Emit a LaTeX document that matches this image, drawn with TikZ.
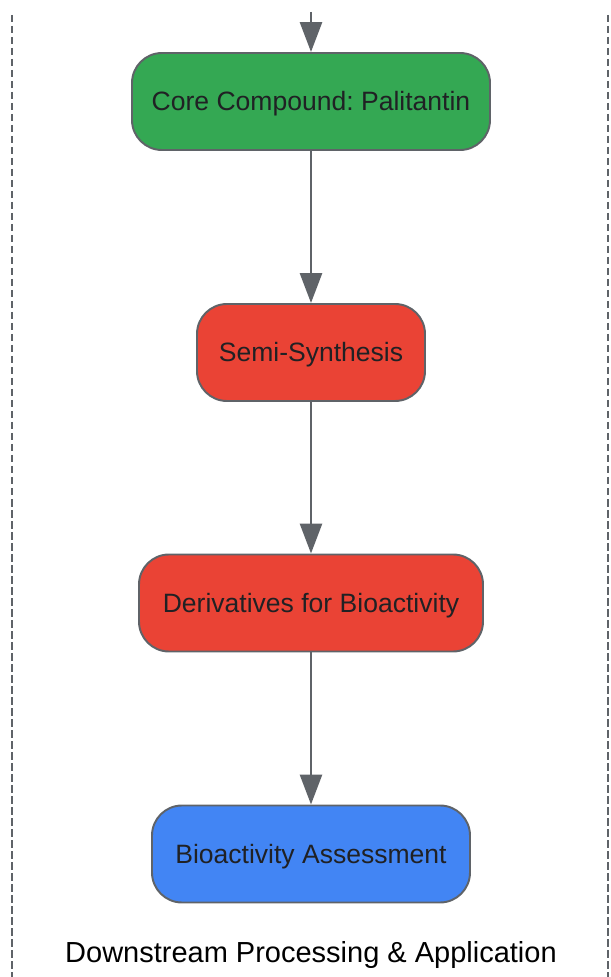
\documentclass[tikz,border=0pt]{standalone}
\usepackage{fontspec}
\setmainfont{Liberation Sans}
\usepackage{tikz}
\usetikzlibrary{arrows.meta}
\pgfdeclarelayer{edgelayer}
\pgfdeclarelayer{nodelayer}
\pgfsetlayers{edgelayer,nodelayer,main}
\frenchspacing
\definecolor{hexcolor0x34a853}{rgb}{0.204,0.659,0.325}
\definecolor{hexcolor0xea4335}{rgb}{0.918,0.263,0.208}
\definecolor{hexcolor0x4285f4}{rgb}{0.259,0.522,0.957}
\definecolor{hexcolor0x5f6368}{rgb}{0.373,0.388,0.408}
\definecolor{mytext}{rgb}{0.125,0.129,0.141}
\definecolor{myblack}{rgb}{0.000,0.000,0.000}
\tikzstyle{box}=[rounded corners=0.6cm,draw=hexcolor0x5f6368,line width=1.1pt,minimum height=1.94cm,inner sep=0pt,text height=0.374cm,text depth=0cm,text=mytext,font=\fontsize{15.1}{18}\selectfont]
\tikzstyle{core}=[box,fill=hexcolor0x34a853]
\tikzstyle{synth}=[box,fill=hexcolor0xea4335]
\tikzstyle{assay}=[box,fill=hexcolor0x4285f4]
\tikzstyle{flow}=[draw=hexcolor0x5f6368,line width=1.6pt,-{Triangle[length=0.6cm,width=0.44cm]}]
\tikzstyle{border}=[draw=hexcolor0x5f6368,line width=1.3pt,dash pattern=on 0.15cm off 0.07cm]

\begin{document}
\begin{tikzpicture}
	\useasboundingbox (-6.22,-9.77) rectangle (5.98,9.77);
	\draw [style=border] (-5.98, 9.47) -- (-5.98,-9.77);
	\draw [style=border] (5.94, 9.47) -- (5.94,-9.77);
	%\begin{pgfonlayer}{nodelayer}
		\node [style=core, minimum width=7.16cm] (0) at (0, 7.74) {Core Compound: Palitantin};
		\node [style=synth, minimum width=4.56cm] (1) at (0, 2.72) {Semi-Synthesis};
		\node [style=synth, minimum width=6.88cm] (2) at (0,-2.29) {Derivatives for Bioactivity};
		\node [style=assay, minimum width=6.36cm] (3) at (0,-7.31) {Bioactivity Assessment};
		\node [text=myblack, inner sep=0pt, text height=0.416cm, text depth=0cm, font=\fontsize{16.5}{20}\selectfont] (5) at (0,-9.27) {Downstream Processing \& Application};
		\coordinate (4) at (0, 9.53);
	%\end{pgfonlayer}
	%\begin{pgfonlayer}{edgelayer}
		\draw [style=flow] (4) to (0);
		\draw [style=flow] (0) to (1);
		\draw [style=flow] (1) to (2);
		\draw [style=flow] (2) to (3);
	%\end{pgfonlayer}
\end{tikzpicture}
\end{document}
